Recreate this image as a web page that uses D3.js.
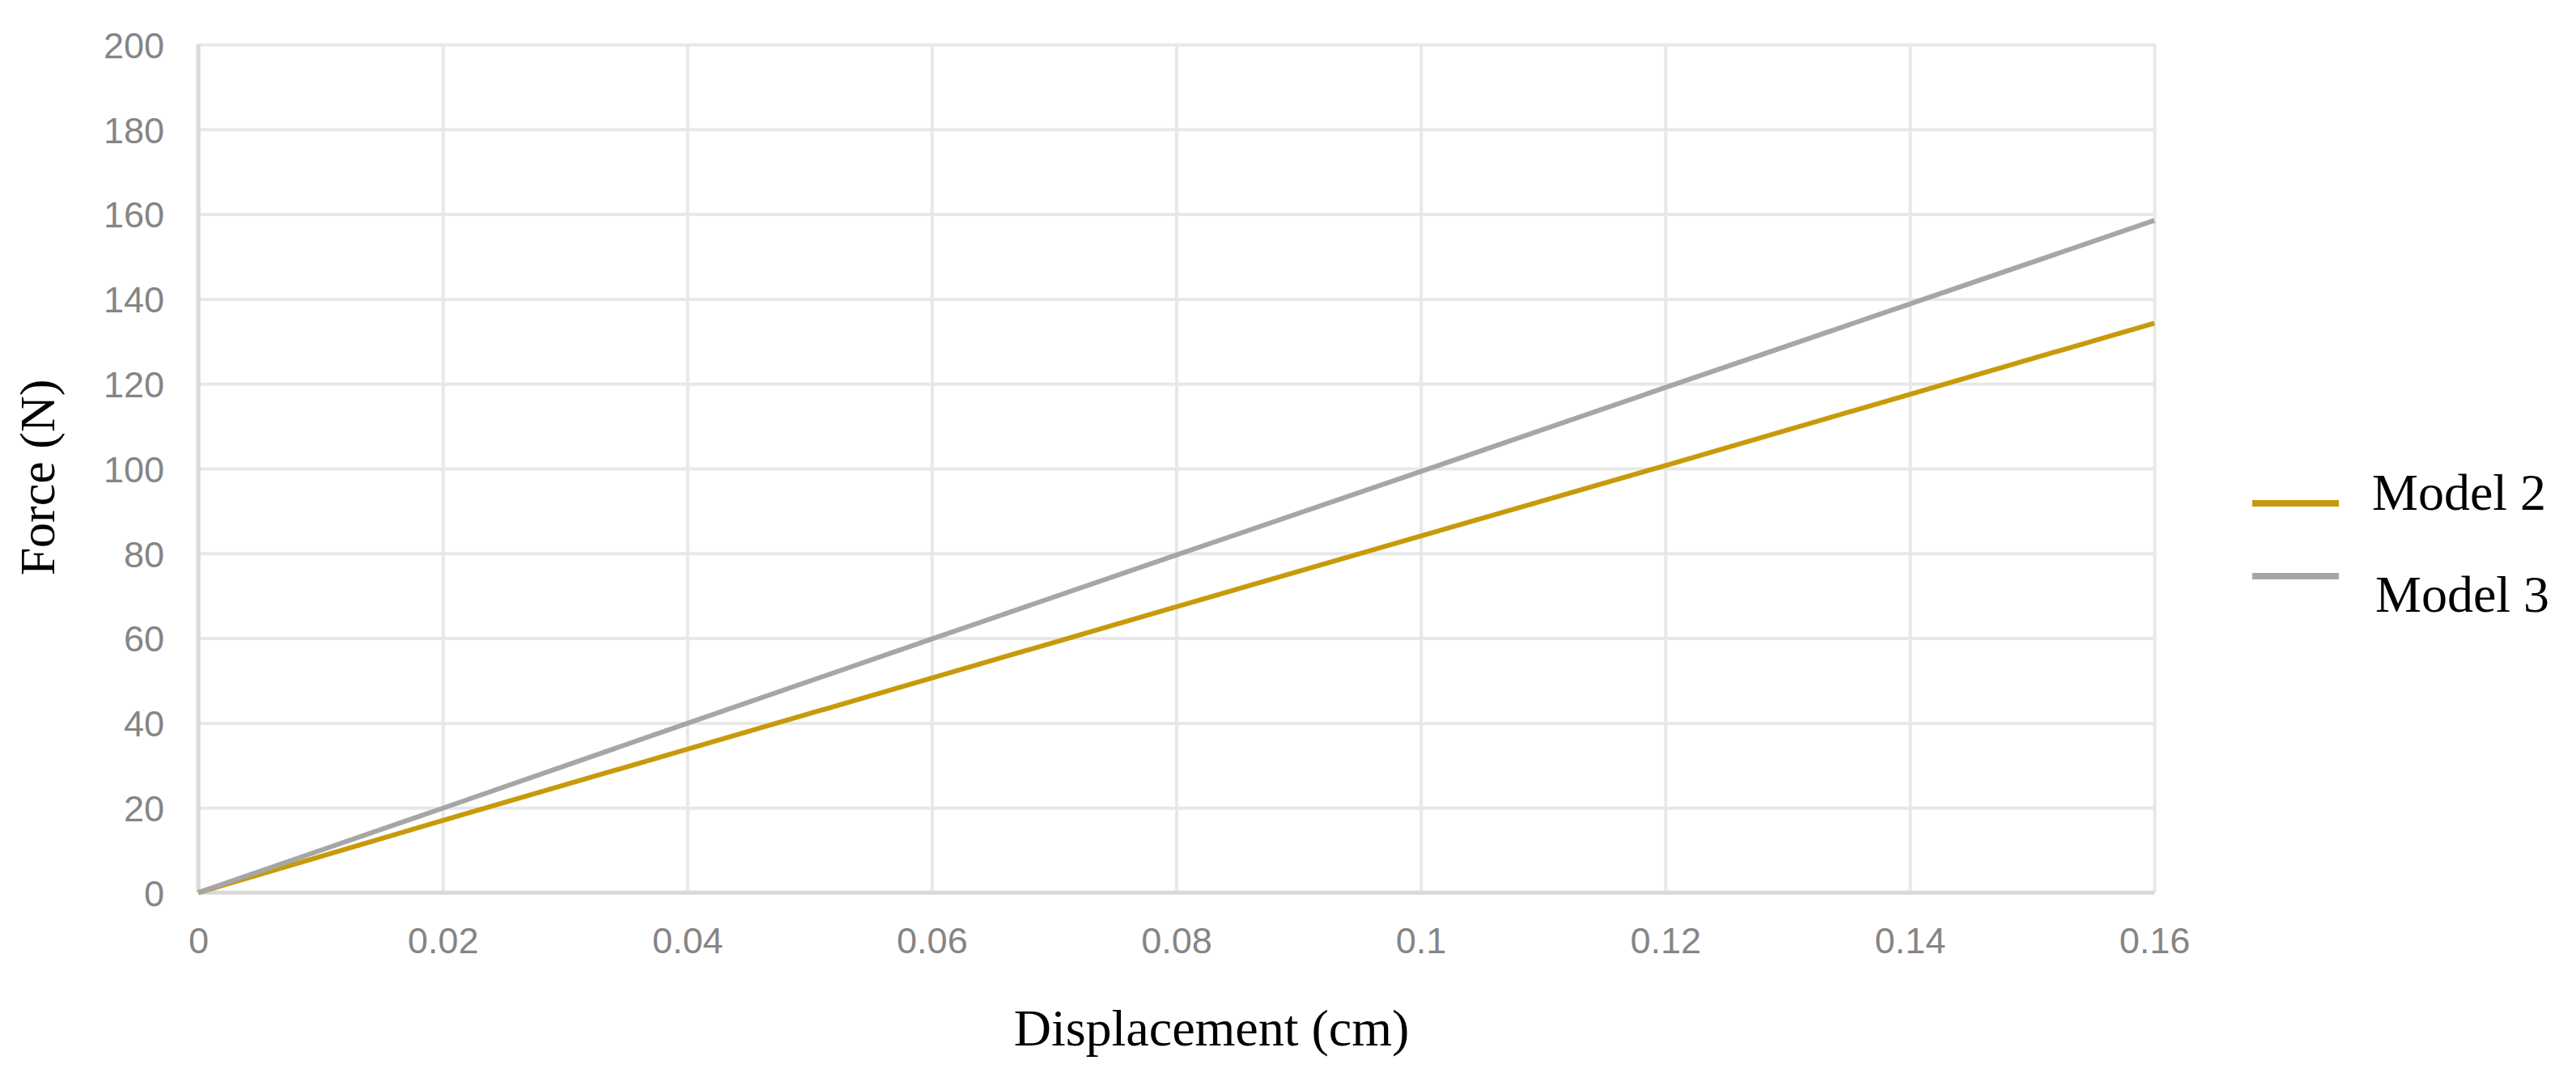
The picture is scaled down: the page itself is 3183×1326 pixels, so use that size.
<!DOCTYPE html>
<html>
<head>
<meta charset="utf-8">
<script src="https://cdn.jsdelivr.net/npm/d3@7/dist/d3.min.js"></script>
<style>
  html, body { margin: 0; padding: 0; background: #fff; }
  svg { display: block; }
</style>
</head>
<body>
<svg id="chart" width="3183" height="1326"></svg>
<script>
// ---- data ----
const displacement = [0, 0.02, 0.04, 0.06, 0.08, 0.10, 0.12, 0.14, 0.16];
const model2 = [0, 17.0, 33.8, 50.6, 67.4, 84.1, 100.7, 117.5, 134.3];
const model3 = [0, 19.9, 39.9, 59.8, 79.6, 99.3, 119.1, 138.8, 158.5];
const seriesNames = ["Model 2", "Model 3"];
const seriesColors = ["#C89A0A", "#A6A6A6"];
const xTicks = [0, 0.02, 0.04, 0.06, 0.08, 0.1, 0.12, 0.14, 0.16];
const xTickLabels = ["0", "0.02", "0.04", "0.06", "0.08", "0.1", "0.12", "0.14", "0.16"];
const yTicks = [0, 20, 40, 60, 80, 100, 120, 140, 160, 180, 200];
const yTickLabels = ["0", "20", "40", "60", "80", "100", "120", "140", "160", "180", "200"];
const xTitle = "Displacement (cm)";
const yTitle = "Force (N)";

// ---- layout ----
const svg = d3.select("#chart");
const pLeft = 245, pRight = 2662, pTop = 55, pBottom = 1103;
const x = d3.scaleLinear().domain([0, 0.16]).range([pLeft, pRight]);
const y = d3.scaleLinear().domain([0, 200]).range([pBottom, pTop]);

// horizontal gridlines
svg.append("g")
  .attr("transform", `translate(${pLeft},0)`)
  .call(d3.axisLeft(y).tickValues(yTicks).tickSize(-(pRight - pLeft)).tickFormat(""))
  .call(g => g.select(".domain").remove())
  .call(g => g.selectAll("line").attr("stroke", "#E8E8E8").attr("stroke-width", 4));

// vertical gridlines
svg.append("g")
  .attr("transform", `translate(0,${pBottom})`)
  .call(d3.axisBottom(x).tickValues(xTicks).tickSize(-(pBottom - pTop)).tickFormat(""))
  .call(g => g.select(".domain").remove())
  .call(g => g.selectAll("line").attr("stroke", "#E8E8E8").attr("stroke-width", 4));

// axis lines
svg.append("line").attr("x1", pLeft).attr("x2", pRight).attr("y1", pBottom).attr("y2", pBottom)
  .attr("stroke", "#D9D9D9").attr("stroke-width", 5);
svg.append("line").attr("x1", pLeft).attr("x2", pLeft).attr("y1", pTop).attr("y2", pBottom)
  .attr("stroke", "#D9D9D9").attr("stroke-width", 5);

// tick labels
const tickFont = "'Liberation Sans', Arial, sans-serif";
svg.append("g")
  .attr("transform", `translate(0,${pBottom})`)
  .call(d3.axisBottom(x).tickValues(xTicks).tickSize(0).tickPadding(75).tickFormat((d, i) => xTickLabels[i]))
  .call(g => g.select(".domain").remove())
  .call(g => g.selectAll("text")
    .attr("font-family", tickFont).attr("font-size", 45).attr("fill", "#858585")
    .attr("dy", "0"));

svg.append("g")
  .attr("transform", `translate(${pLeft},0)`)
  .call(d3.axisLeft(y).tickValues(yTicks).tickSize(0).tickPadding(42).tickFormat((d, i) => yTickLabels[i]))
  .call(g => g.select(".domain").remove())
  .call(g => g.selectAll("text")
    .attr("font-family", tickFont).attr("font-size", 45).attr("fill", "#858585")
    .attr("dy", "0.36em"));

// lines
const series = [model2, model3];
const line = d3.line().x((d, i) => x(displacement[i])).y(d => y(d));
series.forEach((s, k) => {
  svg.append("path").datum(s)
    .attr("fill", "none")
    .attr("stroke", seriesColors[k])
    .attr("stroke-width", 6)
    .attr("d", line);
});

// axis titles
const titleFont = "'Liberation Serif', 'Times New Roman', serif";
svg.append("text")
  .attr("x", 1497).attr("y", 1292)
  .attr("text-anchor", "middle")
  .attr("font-family", titleFont).attr("font-size", 64).attr("fill", "#000")
  .text(xTitle);
svg.append("text")
  .attr("transform", `translate(67,590) rotate(-90)`)
  .attr("text-anchor", "middle")
  .attr("font-family", titleFont).attr("font-size", 62).attr("fill", "#000")
  .text(yTitle);

// legend
const legendY = [622, 712];
const legendTextY = [630, 756];
const legendTextX = [2931, 2935];
seriesNames.forEach((name, k) => {
  svg.append("line")
    .attr("x1", 2783).attr("x2", 2890)
    .attr("y1", legendY[k]).attr("y2", legendY[k])
    .attr("stroke", seriesColors[k]).attr("stroke-width", 8);
  svg.append("text")
    .attr("x", legendTextX[k]).attr("y", legendTextY[k])
    .attr("font-family", titleFont).attr("font-size", 64).attr("fill", "#000")
    .text(name);
});
</script>
</body>
</html>
